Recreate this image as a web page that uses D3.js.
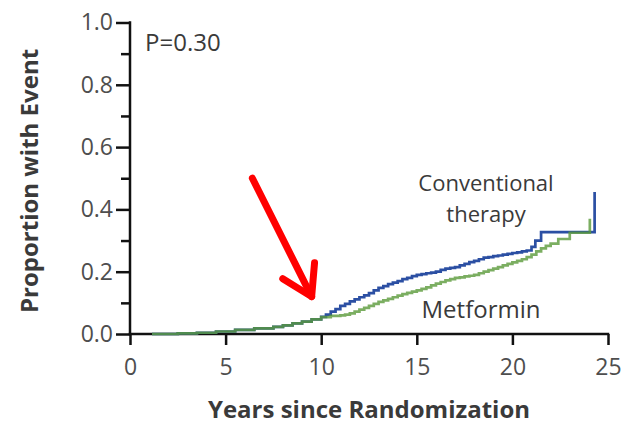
<!DOCTYPE html>
<html>
<head>
<meta charset="utf-8">
<script src="https://cdn.jsdelivr.net/npm/d3@7"></script>
<style>
  html, body { margin: 0; padding: 0; background: #fff; }
  svg { display: block; font-family: "Open Sans", "DejaVu Sans", sans-serif; }
</style>
</head>
<body>
<svg id="chart" width="621" height="424"></svg>
<script>
// ---- data ----
const xTickLabels = [0, 5, 10, 15, 20, 25];
const yTickLabels = [0.0, 0.2, 0.4, 0.6, 0.8, 1.0];
const yMinorTicks = [0.1, 0.3, 0.5, 0.7, 0.9];

const conventionalYears = [1.15, 2.5, 3.5, 4.5, 5.5, 6.5, 7.5, 8.0, 8.5, 9.0, 9.5, 10.0, 10.25, 10.5, 10.75, 11.0, 11.25, 11.5, 11.75, 12.0, 12.25, 12.5, 12.75, 13.0, 13.25, 13.5, 13.75, 14.0, 14.25, 14.5, 14.75, 15.0, 15.25, 15.5, 15.75, 16.0, 16.25, 16.5, 16.75, 17.0, 17.25, 17.5, 17.75, 18.0, 18.25, 18.5, 18.75, 19.0, 19.25, 19.5, 19.75, 20.0, 20.25, 20.5, 20.75, 21.0, 21.2, 21.5, 24.3];
const conventionalValues = [0.0, 0.002, 0.004, 0.008, 0.013, 0.018, 0.023, 0.028, 0.034, 0.040, 0.047, 0.055, 0.062, 0.072, 0.080, 0.090, 0.097, 0.105, 0.111, 0.118, 0.124, 0.131, 0.140, 0.148, 0.154, 0.160, 0.165, 0.170, 0.176, 0.180, 0.186, 0.190, 0.192, 0.195, 0.197, 0.200, 0.206, 0.210, 0.212, 0.215, 0.220, 0.225, 0.231, 0.235, 0.240, 0.245, 0.247, 0.250, 0.252, 0.255, 0.257, 0.260, 0.262, 0.265, 0.268, 0.280, 0.300, 0.327, 0.456];

const metforminYears = [1.15, 2.5, 3.5, 4.5, 5.5, 6.5, 7.5, 8.0, 8.5, 9.0, 9.5, 10.0, 10.5, 11.0, 11.25, 11.5, 11.75, 12.0, 12.25, 12.5, 12.75, 13.0, 13.25, 13.5, 13.75, 14.0, 14.25, 14.5, 14.75, 15.0, 15.25, 15.5, 15.75, 16.0, 16.25, 16.5, 16.75, 17.0, 17.25, 17.5, 17.75, 18.0, 18.25, 18.5, 18.75, 19.0, 19.25, 19.5, 19.75, 20.0, 20.25, 20.5, 20.75, 21.0, 21.25, 21.5, 21.75, 22.0, 22.4, 23.0, 24.05];
const metforminValues = [0.0, 0.002, 0.004, 0.008, 0.013, 0.018, 0.023, 0.028, 0.034, 0.040, 0.047, 0.054, 0.058, 0.060, 0.062, 0.066, 0.072, 0.078, 0.084, 0.090, 0.097, 0.103, 0.108, 0.113, 0.118, 0.123, 0.128, 0.132, 0.136, 0.140, 0.145, 0.150, 0.156, 0.162, 0.167, 0.172, 0.176, 0.180, 0.182, 0.185, 0.187, 0.190, 0.195, 0.200, 0.205, 0.210, 0.215, 0.220, 0.225, 0.230, 0.235, 0.240, 0.247, 0.255, 0.265, 0.275, 0.283, 0.290, 0.305, 0.325, 0.370];

const seriesNames = ["Conventional", "therapy", "Metformin"];
const pValueText = "P=0.30";
const xTitle = "Years since Randomization";
const yTitle = "Proportion with Event";
// arrow annotation (data units): tail -> head
const arrowTail = [6.4, 0.50];
const arrowHead = [9.5, 0.12];

// ---- chart ----
const svg = d3.select("#chart");
const x = d3.scaleLinear().domain([0, 25]).range([130, 608]);
const y = d3.scaleLinear().domain([0, 1]).range([334, 22.5]);

const textColor = "#3a3a3a";
const tickColor = "#4e4e4e";

// y axis major
const yAxis = svg.append("g").attr("transform", `translate(${x(0)},0)`)
  .call(d3.axisLeft(y).tickValues(yTickLabels).tickFormat(d3.format(".1f")).tickSize(14).tickPadding(3));
// y minor ticks
svg.append("g").attr("transform", `translate(${x(0)},0)`)
  .call(d3.axisLeft(y).tickValues(yMinorTicks).tickFormat("").tickSize(9))
  .select(".domain").remove();
// x axis
const xAxis = svg.append("g").attr("transform", `translate(0,${y(0)})`)
  .call(d3.axisBottom(x).tickValues(xTickLabels).tickSize(11).tickPadding(14));

svg.selectAll(".domain").attr("stroke", "#111").attr("stroke-width", 2.5).attr("stroke-linecap", "square");
svg.selectAll(".tick line").attr("stroke", "#111").attr("stroke-width", 2.5);
svg.selectAll(".tick text").attr("font-size", 23).attr("fill", tickColor)
  .attr("font-family", "'Open Sans', sans-serif");
yAxis.select(".domain").attr("d", `M0,${y(1)}V${y(0)}`);
xAxis.select(".domain").attr("d", `M${x(0)},0H${x(25)}`);

// curves
const line = d3.line().curve(d3.curveStepAfter).x(d => x(d[0])).y(d => y(d[1]));
const conv = conventionalYears.map((t, i) => [t, conventionalValues[i]]);
const met = metforminYears.map((t, i) => [t, metforminValues[i]]);

svg.append("path").datum(conv).attr("d", line)
  .attr("fill", "none").attr("stroke", "#2b4fa3").attr("stroke-width", 2.7);
svg.append("path").datum(met).attr("d", line)
  .attr("fill", "none").attr("stroke", "#5a9a3a").attr("stroke-width", 2.7).attr("stroke-opacity", 0.8);

// texts
svg.append("text").attr("x", 145).attr("y", 51).attr("font-size", 24).attr("fill", textColor).text(pValueText);
const convLabel = svg.append("text").attr("x", 486).attr("y", 191).attr("text-anchor", "middle")
  .attr("font-size", 22).attr("fill", textColor);
convLabel.append("tspan").attr("x", 486).text(seriesNames[0]);
convLabel.append("tspan").attr("x", 486).attr("dy", 30.5).text(seriesNames[1]);
svg.append("text").attr("x", 481).attr("y", 318).attr("text-anchor", "middle").attr("font-size", 24).attr("fill", textColor).text(seriesNames[2]);

svg.append("text").attr("x", 369).attr("y", 418).attr("text-anchor", "middle")
  .attr("font-size", 24).attr("font-weight", "bold").attr("fill", textColor).text(xTitle);
svg.append("text").attr("transform", `translate(38,181) rotate(-90)`).attr("text-anchor", "middle")
  .attr("font-size", 24).attr("font-weight", "bold").attr("fill", textColor).text(yTitle);

// red arrow
const hx = x(arrowHead[0]), hy = y(arrowHead[1]);
const tx = x(arrowTail[0]), ty = y(arrowTail[1]);
const ang = Math.atan2(hy - ty, hx - tx);
const armLen = 34, spread = 0.55;
const arrow = svg.append("g").attr("stroke", "#ff0000").attr("stroke-width", 7).attr("stroke-linecap", "round").attr("fill", "none");
arrow.append("line").attr("x1", tx).attr("y1", ty).attr("x2", hx).attr("y2", hy);
arrow.append("path").attr("stroke-linejoin", "round").attr("d",
  `M${hx - armLen * Math.cos(ang - spread)},${hy - armLen * Math.sin(ang - spread)}L${hx},${hy}L${hx - armLen * Math.cos(ang + spread)},${hy - armLen * Math.sin(ang + spread)}`);
</script>
</body>
</html>
